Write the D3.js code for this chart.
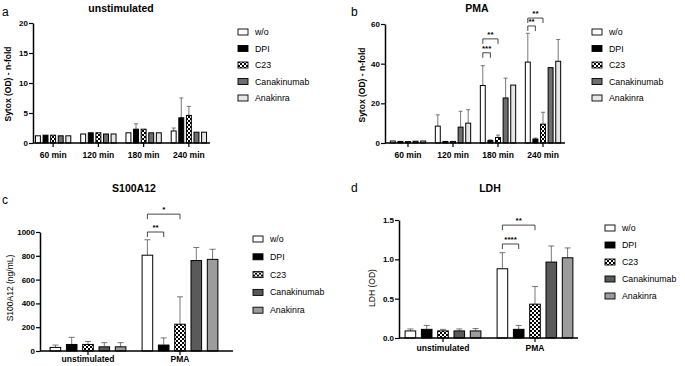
<!DOCTYPE html>
<html>
<head>
<meta charset="utf-8">
<script src="https://cdn.jsdelivr.net/npm/d3@7"></script>
<style>
  body { margin: 0; background: #fff; }
  svg { font-family: 'Liberation Sans', Arial, sans-serif; }
</style>
</head>
<body>
<div id="chart"></div>
<script>
// Data
var seriesNames = ['w/o', 'DPI', 'C23', 'Canakinumab', 'Anakinra'];
var timeCats = ['60 min', '120 min', '180 min', '240 min'];
var stimCats = ['unstimulated', 'PMA'];

// panel a: Sytox, unstimulated (rows = time, cols = series)
var sytoxUnstimMean = [
  [1.2, 1.3, 1.3, 1.2, 1.2],
  [1.5, 1.7, 1.7, 1.5, 1.5],
  [1.7, 2.3, 2.3, 1.7, 1.7],
  [2.0, 4.2, 4.6, 1.8, 1.8]
];
var sytoxUnstimSd = [
  [0, 0, 0, 0, 0],
  [0, 0, 0, 0, 0],
  [0, 0.9, 0, 0, 0],
  [0.5, 3.3, 1.5, 0, 0]
];

// panel b: Sytox, PMA
var sytoxPmaMean = [
  [1.0, 0.8, 0.7, 0.9, 1.0],
  [8.5, 0.8, 0.8, 8.0, 10.0],
  [29.0, 1.2, 2.8, 22.7, 29.2],
  [40.8, 2.0, 9.5, 38.0, 41.2]
];
var sytoxPmaSd = [
  [0, 0, 0, 0, 0],
  [5.7, 0, 0, 8.0, 6.8],
  [10.0, 0.4, 1.2, 10.0, 0],
  [14.5, 0.5, 6.0, 0, 11.0]
];
var sytoxPmaSig = [
  {cat: '180 min', from: 0, to: 1, y: 45.5, label: '***'},
  {cat: '180 min', from: 0, to: 2, y: 52.5, label: '**'},
  {cat: '240 min', from: 0, to: 1, y: 59, label: '**'},
  {cat: '240 min', from: 0, to: 2, y: 63, label: '**'}
];

// panel c: S100A12
var s100Mean = [
  [30, 55, 55, 35, 35],
  [805, 50, 225, 760, 770]
];
var s100Sd = [
  [20, 60, 25, 35, 35],
  [130, 60, 230, 110, 85]
];
var s100Sig = [
  {cat: 'PMA', from: 0, to: 1, y: 1000, label: '**'},
  {cat: 'PMA', from: 0, to: 2, y: 1150, label: '*'}
];

// panel d: LDH
var ldhMean = [
  [0.09, 0.11, 0.09, 0.09, 0.09],
  [0.88, 0.11, 0.43, 0.965, 1.02]
];
var ldhSd = [
  [0.025, 0.05, 0.02, 0.025, 0.03],
  [0.205, 0.05, 0.225, 0.205, 0.125]
];
var ldhSig = [
  {cat: 'PMA', from: 0, to: 1, y: 1.195, label: '****'},
  {cat: 'PMA', from: 0, to: 2, y: 1.435, label: '**'}
];

var svg = d3.select('#chart')
    .append('svg')
    .attr('width', 685)
    .attr('height', 366);

// Checker pattern for C23
var defs = svg.append('defs');
var pat = defs.append('pattern')
    .attr('id', 'checker')
    .attr('patternUnits', 'userSpaceOnUse')
    .attr('width', 4)
    .attr('height', 4);
pat.append('rect').attr('width', 4).attr('height', 4).attr('fill', '#fff');
pat.append('rect').attr('width', 2).attr('height', 2).attr('fill', '#000');
pat.append('rect').attr('x', 2).attr('y', 2).attr('width', 2).attr('height', 2).attr('fill', '#000');

var fillsTop = ['#ffffff', '#000000', 'url(#checker)', '#6e6e6e', '#e6e6e6'];
var fillsBottom = ['#ffffff', '#000000', 'url(#checker)', '#5a5a5a', '#9c9c9c'];

function drawPanel(p) {
  var g = svg.append('g');

  var x = d3.scaleBand()
      .domain(p.cats)
      .range(p.band);
  var xs = d3.scaleBand()
      .domain(seriesNames)
      .range([-p.groupW / 2, p.groupW / 2])
      .paddingInner(p.barPad)
      .paddingOuter(p.barPad / 2);
  var y = d3.scaleLinear()
      .domain(p.yDomain)
      .range(p.yRange);

  function barX(cat, i) {
    return x(cat) + x.bandwidth() / 2 + xs(seriesNames[i]);
  }

  // bars
  p.cats.forEach(function(cat, ci) {
    var rows = p.mean[ci].map(function(v, i) {
      return {i: i, v: v, sd: p.sd[ci][i]};
    });
    var grp = g.append('g');
    // error bars (upper only)
    grp.selectAll('line.err')
        .data(rows.filter(function(d) { return d.sd > 0; }))
        .enter()
        .append('line')
        .attr('x1', function(d) { return barX(cat, d.i) + xs.bandwidth() / 2; })
        .attr('x2', function(d) { return barX(cat, d.i) + xs.bandwidth() / 2; })
        .attr('y1', function(d) { return y(d.v); })
        .attr('y2', function(d) { return y(d.v + d.sd); })
        .attr('stroke', '#555')
        .attr('stroke-width', 0.8);
    grp.selectAll('line.cap')
        .data(rows.filter(function(d) { return d.sd > 0; }))
        .enter()
        .append('line')
        .attr('x1', function(d) { return barX(cat, d.i) + xs.bandwidth() / 2 - p.cap; })
        .attr('x2', function(d) { return barX(cat, d.i) + xs.bandwidth() / 2 + p.cap; })
        .attr('y1', function(d) { return y(d.v + d.sd); })
        .attr('y2', function(d) { return y(d.v + d.sd); })
        .attr('stroke', '#555')
        .attr('stroke-width', 0.8);
    grp.selectAll('rect')
        .data(rows)
        .enter()
        .append('rect')
        .attr('x', function(d) { return barX(cat, d.i); })
        .attr('y', function(d) { return y(d.v); })
        .attr('width', xs.bandwidth())
        .attr('height', function(d) { return y(0) - y(d.v); })
        .attr('fill', function(d) { return p.fills[d.i]; })
        .attr('stroke', '#000')
        .attr('stroke-width', 1);
  });

  // Axes
  var axisY = d3.axisLeft(y)
      .tickValues(p.yTicks)
      .tickFormat(p.yFormat)
      .tickSize(4)
      .tickSizeOuter(0);
  var gy = g.append('g')
      .attr('transform', 'translate(' + p.axisX + ',0)')
      .call(axisY);
  gy.select('.domain').attr('stroke-width', 1.5);
  gy.selectAll('.tick line').attr('stroke-width', 1.2);
  gy.selectAll('.tick text')
      .attr('font-size', 8)
      .attr('font-weight', 'bold')
      .attr('font-family', "'Liberation Sans', Arial, sans-serif")
      .attr('x', -5);

  var axisX = d3.axisBottom(x).tickSize(4).tickSizeOuter(0);
  var gx = g.append('g')
      .attr('transform', 'translate(0,' + y(0) + ')')
      .call(axisX);
  gx.select('.domain')
      .attr('d', 'M' + p.axisX + ',0H' + p.axisEnd)
      .attr('stroke-width', 1.5);
  gx.selectAll('.tick line').attr('stroke-width', 1.2);
  gx.selectAll('.tick text')
      .attr('font-size', 8.5)
      .attr('font-weight', 'bold')
      .attr('font-family', "'Liberation Sans', Arial, sans-serif")
      .attr('y', p.catLabelDy);

  // significance brackets
  g.selectAll('g.sig')
      .data(p.sig)
      .enter()
      .append('g')
      .each(function(s) {
        var x1 = barX(s.cat, s.from) + xs.bandwidth() / 2;
        var x2 = barX(s.cat, s.to) + xs.bandwidth() / 2;
        var yy = y(s.y);
        d3.select(this).append('path')
            .attr('d', 'M' + x1 + ',' + (yy + p.leg) + 'V' + yy + 'H' + x2 + 'V' + (yy + p.leg))
            .attr('fill', 'none')
            .attr('stroke', '#333')
            .attr('stroke-width', 0.9);
        d3.select(this).append('text')
            .attr('x', (x1 + x2) / 2)
            .attr('y', yy - 2)
            .attr('text-anchor', 'middle')
            .attr('font-size', 8)
            .attr('font-weight', 'bold')
            .text(s.label);
      });

  // title, panel letter, y-axis title
  g.append('text')
      .attr('x', p.title[0])
      .attr('y', p.title[1])
      .attr('text-anchor', 'middle')
      .attr('font-size', 10.5)
      .attr('font-weight', 'bold')
      .text(p.titleText);
  g.append('text')
      .attr('x', p.letter[0])
      .attr('y', p.letter[1])
      .attr('font-size', 12)
      .text(p.letterText);
  g.append('text')
      .attr('transform', 'translate(' + p.yLabel[0] + ',' + p.yLabel[1] + ') rotate(-90)')
      .attr('text-anchor', 'middle')
      .attr('font-size', 8.5)
      .attr('font-weight', p.yLabelBold ? 'bold' : 'normal')
      .text(p.yLabelText);

  // legend
  var lg = g.append('g')
      .attr('transform', 'translate(' + p.legend[0] + ',' + p.legend[1] + ')');
  var items = lg.selectAll('g')
      .data(seriesNames)
      .enter()
      .append('g')
      .attr('transform', function(d, i) {
        return 'translate(0,' + (i * p.legendStep) + ')';
      });
  items.append('rect')
      .attr('x', 0)
      .attr('y', -3)
      .attr('width', p.swatch[0])
      .attr('height', p.swatch[1])
      .attr('fill', function(d, i) { return p.fills[i]; })
      .attr('stroke', '#000')
      .attr('stroke-width', 0.9);
  items.append('text')
      .attr('x', p.swatch[0] + 7)
      .attr('y', 3)
      .attr('font-size', 8.8)
      .text(function(d) { return d; });
}

// a
drawPanel({
  cats: timeCats, mean: sytoxUnstimMean, sd: sytoxUnstimSd, sig: [],
  band: [30.5, 211.5], groupW: 38, barPad: 0.35, cap: 2,
  yDomain: [0, 20], yRange: [143, 23], yTicks: [0, 5, 10, 15, 20], yFormat: d3.format('d'),
  axisX: 33, axisEnd: 210, catLabelDy: 9, leg: 5,
  fills: fillsTop,
  titleText: 'unstimulated', title: [121, 12],
  letterText: 'a', letter: [2, 16],
  yLabelText: 'Sytox (OD) - n-fold', yLabel: [11, 84], yLabelBold: true,
  legend: [238, 32], legendStep: 16.5, swatch: [10, 6]
});

// b
drawPanel({
  cats: timeCats, mean: sytoxPmaMean, sd: sytoxPmaSd, sig: sytoxPmaSig,
  band: [385.5, 565.5], groupW: 38, barPad: 0.35, cap: 2,
  yDomain: [0, 60], yRange: [143, 24], yTicks: [0, 20, 40, 60], yFormat: d3.format('d'),
  axisX: 385, axisEnd: 565, catLabelDy: 9, leg: 5,
  fills: fillsTop,
  titleText: 'PMA', title: [477, 12],
  letterText: 'b', letter: [351, 16],
  yLabelText: 'Sytox (OD) - n-fold', yLabel: [365, 85], yLabelBold: true,
  legend: [592, 32], legendStep: 16.5, swatch: [10, 6]
});

// c
drawPanel({
  cats: stimCats, mean: s100Mean, sd: s100Sd, sig: s100Sig,
  band: [42, 226], groupW: 81.5, barPad: 0.35, cap: 3,
  yDomain: [0, 1000], yRange: [351, 232], yTicks: [0, 200, 400, 600, 800, 1000], yFormat: d3.format('d'),
  axisX: 40, axisEnd: 233, catLabelDy: 5, leg: 5,
  fills: fillsBottom,
  titleText: 'S100A12', title: [134, 192],
  letterText: 'c', letter: [2, 204],
  yLabelText: 'S100A12 (ng/mL)', yLabel: [13, 288], yLabelBold: false,
  legend: [253, 239], legendStep: 17.8, swatch: [10, 6]
});

// d
drawPanel({
  cats: stimCats, mean: ldhMean, sd: ldhSd, sig: ldhSig,
  band: [397, 581], groupW: 81.5, barPad: 0.35, cap: 3,
  yDomain: [0, 1.5], yRange: [338, 220], yTicks: [0, 0.5, 1.0, 1.5], yFormat: d3.format('.1f'),
  axisX: 399, axisEnd: 578, catLabelDy: 7, leg: 5,
  fills: fillsBottom,
  titleText: 'LDH', title: [490, 192],
  letterText: 'd', letter: [351, 192],
  yLabelText: 'LDH (OD)', yLabel: [375, 288], yLabelBold: false,
  legend: [605, 228], legendStep: 17, swatch: [10, 6]
});
</script>
</body>
</html>
